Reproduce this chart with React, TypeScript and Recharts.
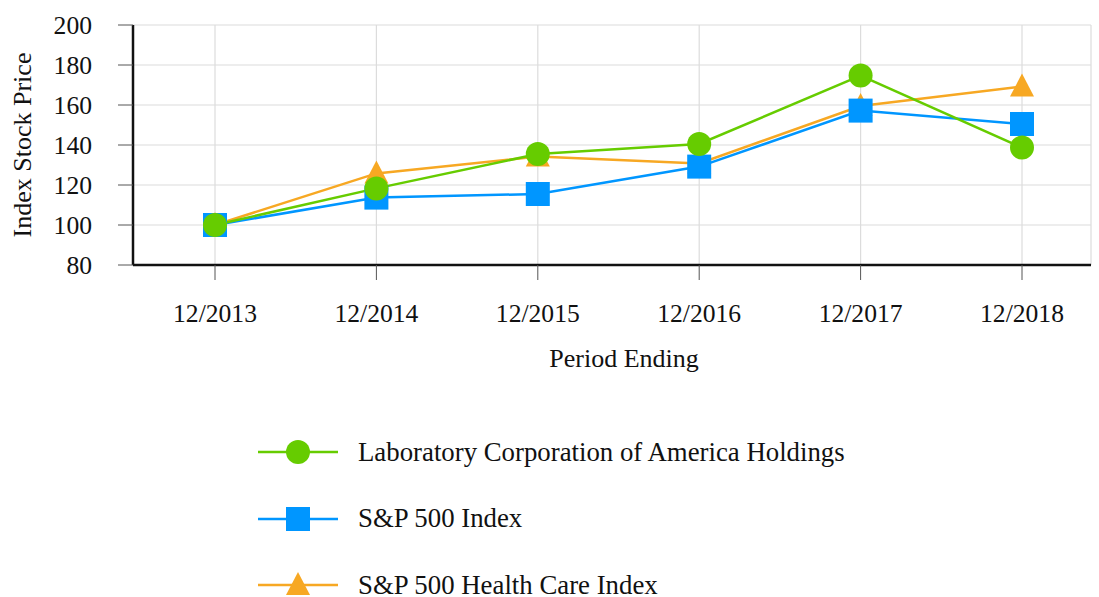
import React from 'react';
import { LineChart, Line, XAxis, YAxis, CartesianGrid } from 'recharts';

const periods = ['12/2013', '12/2014', '12/2015', '12/2016', '12/2017', '12/2018'];
const labcorp = [100, 118.3, 135.5, 140.5, 174.7, 138.7];
const sp500 = [100, 113.7, 115.5, 129.2, 157.2, 150.5];
const healthCare = [100, 125.8, 134.2, 130.8, 159.5, 169.2];
const yTicks = [80, 100, 120, 140, 160, 180, 200];

const GREEN = '#66cc00';
const BLUE = '#0096ff';
const ORANGE = '#f7a823';
const FONT = '"Liberation Serif", "DejaVu Serif", serif';

const data = periods.map((p, i) => ({
  period: p,
  labcorp: labcorp[i],
  sp500: sp500[i],
  healthCare: healthCare[i],
}));

const series = [
  { key: 'labcorp', name: 'Laboratory Corporation of America Holdings', color: GREEN, shape: 'circle' },
  { key: 'sp500', name: 'S&P 500 Index', color: BLUE, shape: 'square' },
  { key: 'healthCare', name: 'S&P 500 Health Care Index', color: ORANGE, shape: 'triangle' },
];

// drawn bottom to top: orange, blue, green
const drawOrder = [...series].reverse();

const Marker = ({ cx, cy, shape, color }: any) => {
  if (cx == null || cy == null) return null;
  if (shape === 'circle') return <circle cx={cx} cy={cy} r={12} fill={color} />;
  if (shape === 'square') return <rect x={cx - 12} y={cy - 12} width={24} height={24} fill={color} />;
  return <path d={`M${cx},${cy - 13} L${cx + 12},${cy + 10} L${cx - 12},${cy + 10} Z`} fill={color} />;
};

const LegendBlock = () => (
  <div style={{ position: 'absolute', left: 258, top: 419 }}>
    {series.map((s) => (
      <div key={s.key} style={{ display: 'flex', alignItems: 'center', height: 66.5 }}>
        <svg width={80} height={44} style={{ overflow: 'visible' }}>
          <line x1={0} y1={22} x2={80} y2={22} stroke={s.color} strokeWidth={2.5} />
          <Marker cx={40} cy={22} shape={s.shape} color={s.color} />
        </svg>
        <span style={{ marginLeft: 20, fontFamily: FONT, fontSize: 26.8, lineHeight: 1, color: '#111', whiteSpace: 'nowrap' }}>{s.name}</span>
      </div>
    ))}
  </div>
);

export default function App() {
  return (
    <div style={{ position: 'absolute', left: 0, top: 0, width: 1099, height: 597, overflow: 'hidden', background: '#fff' }}>
      <LineChart width={1099} height={597} data={data} margin={{ top: 25, right: 8, bottom: 0, left: 0 }}>
        <CartesianGrid stroke="#dcdcdc" strokeWidth={1.2} />
        <XAxis
          dataKey="period"
          height={332}
          padding={{ left: 82, right: 69 }}
          tickSize={15}
          tickMargin={24}
          axisLine={{ stroke: '#111', strokeWidth: 2.5 }}
          tickLine={{ stroke: '#555' }}
          tick={{ fill: '#111', fontSize: 25.6, fontFamily: FONT }}
          label={{ value: 'Period Ending', position: 'insideTop', offset: 84, dx: 12, fill: '#111', fontSize: 26, fontFamily: FONT }}
        />
        <YAxis
          width={133}
          domain={[80, 200]}
          ticks={yTicks}
          tickSize={15}
          tickMargin={26}
          axisLine={{ stroke: '#111', strokeWidth: 2.5 }}
          tickLine={{ stroke: '#555' }}
          tick={{ fill: '#111', fontSize: 25.6, fontFamily: FONT }}
          label={{ value: 'Index Stock Price', angle: -90, position: 'insideLeft', offset: 22, style: { textAnchor: 'middle' }, fill: '#111', fontSize: 26, fontFamily: FONT }}
        />
        {drawOrder.map((s) => (
          <Line
            key={s.key}
            dataKey={s.key}
            name={s.name}
            type="linear"
            stroke={s.color}
            strokeWidth={2.5}
            dot={(p: any) => <Marker key={`${s.key}-${p.index}`} cx={p.cx} cy={p.cy} shape={s.shape} color={s.color} />}
            activeDot={false}
            isAnimationActive={false}
          />
        ))}
      </LineChart>
      <LegendBlock />
    </div>
  );
}
